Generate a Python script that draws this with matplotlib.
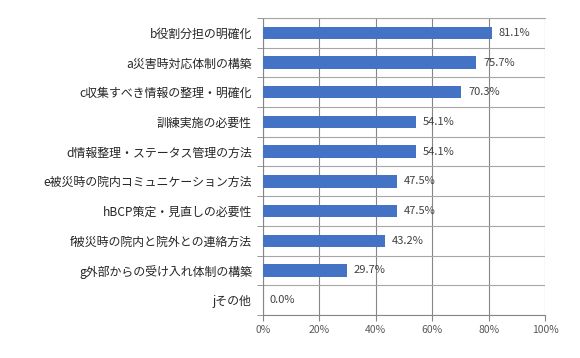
import matplotlib
matplotlib.use("Agg")
import matplotlib.pyplot as plt
from matplotlib.ticker import FixedLocator

plt.rcParams['font.family'] = ['Noto Sans CJK JP', 'DejaVu Sans']

categories = ["b役割分担の明確化", "a災害時対応体制の構築", "c収集すべき情報の整理・明確化",
              "訓練実施の必要性", "d情報整理・ステータス管理の方法",
              "e被災時の院内コミュニケーション方法", "hBCP策定・見直しの必要性",
              "f被災時の院内と院外との連絡方法", "g外部からの受け入れ体制の構築", "jその他"]
values = [81.1, 75.7, 70.3, 54.1, 54.1, 47.5, 47.5, 43.2, 29.7, 0.0]
xticks = [0, 20, 40, 60, 80, 100]
xticklabels = ["0%", "20%", "40%", "60%", "80%", "100%"]

fig = plt.figure(figsize=(5.8, 3.58), dpi=100)
ax = fig.add_axes([263/580, 1-315/358, (545-263)/580, (315-18)/358])

n = len(categories)
ypos = list(range(n))
ax.barh(ypos, values, height=0.42, color="#4472C4", zorder=3)
ax.set_ylim(n-0.5, -0.5)
ax.set_xlim(0, 100)

ax.set_yticks(ypos)
ax.set_yticklabels(categories, fontsize=8.6, color="#262626")
ax.tick_params(axis='y', length=0, pad=8)
ax.yaxis.set_minor_locator(FixedLocator([i-0.5 for i in range(n+1)]))
ax.tick_params(axis='y', which='minor', length=4, color="#868686")

ax.set_xticks(xticks)
ax.set_xticklabels(xticklabels, fontsize=7.5, color="#595959")
ax.tick_params(axis='x', length=4, color="#868686", pad=3)

ax.grid(axis='x', color="#868686", linewidth=0.8, zorder=0)
ax.grid(axis='y', which='minor', color="#a6a6a6", linewidth=0.8, zorder=0)
ax.spines['right'].set_visible(False)
ax.spines['left'].set_color("#868686")
ax.spines['bottom'].set_color("#868686")
ax.spines['top'].set_color("#a6a6a6")

for y, v in zip(ypos, values):
    ax.annotate(f"{v:.1f}%", (v, y), xytext=(5, 0), textcoords="offset points",
                va='center', ha='left', fontsize=8, color="#404040", zorder=4)

fig.savefig("out.png", dpi=100)
